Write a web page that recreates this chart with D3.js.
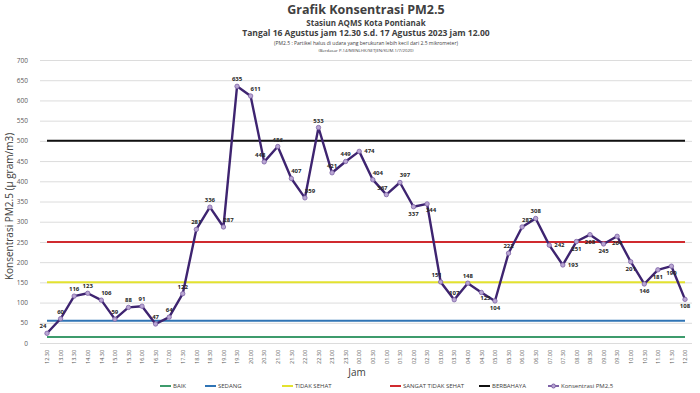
<!DOCTYPE html>
<html><head><meta charset="utf-8">
<script src="https://cdn.jsdelivr.net/npm/d3@7/dist/d3.min.js"></script>
<style>body{margin:0;background:#fff}svg{display:block;font-family:"Open Sans","Noto Sans",sans-serif}</style>
</head><body><svg id="c" width="700" height="393"></svg>
<script>
const categories = ["12.30","13.00","13.30","14.00","14.30","15.00","15.30","16.00","16.30","17.00","17.30","18.00","18.30","19.00","19.30","20.00","20.30","21.00","21.30","22.00","22.30","23.00","23.30","00.00","00.30","01.00","01.30","02.00","02.30","03.00","03.30","04.00","04.30","05.00","05.30","06.00","06.30","07.00","07.30","08.00","08.30","09.00","09.30","10.00","10.30","11.00","11.30","12.00"];
const pm25 = [24,60,116,123,106,59,88,91,47,64,122,281,336,287,635,611,448,486,407,359,533,421,449,474,404,367,397,337,344,151,107,148,125,104,222,287,308,242,193,251,268,245,264,201,146,181,190,108];
const thresholdNames = ["BAIK","SEDANG","TIDAK SEHAT","SANGAT TIDAK SEHAT","BERBAHAYA"];
const thresholdValues = [15,55,150,250,500];
const yTicks = [0,50,100,150,200,250,300,350,400,450,500,550,600,650,700];
const seriesName = "Konsentrasi PM2,5";
// label placement per point (style only)
const labelPos = ["al","a","a","a","ar","a","a","a","a","a","a","a","a","ar","a","ar","al","a","ar","ar","a","a","a","r","ar","al","ar","b","br","al","a","a","br","b","a","ar","a","r","r","b","b","b","b","b","b","b","b","b"];

const thresholdColors = ["#3d9b6c","#2f74b5","#e3e22f","#d02a2f","#111111"];
const svg = d3.select("#c");
const x = d3.scalePoint().domain(categories).range([47,685]);
const y = d3.scaleLinear().domain([0,700]).range([343,60]);

// titles
const t = svg.append("g").attr("fill","#404040").attr("text-anchor","middle").attr("font-weight","bold");
t.append("text").attr("x",366).attr("y",14).attr("font-size",12.5).text("Grafik Konsentrasi PM2.5");
t.append("text").attr("x",366).attr("y",26).attr("font-size",8).text("Stasiun AQMS Kota Pontianak");
t.append("text").attr("x",366).attr("y",36).attr("font-size",8.5).text("Tangal 16 Agustus jam 12.30 s.d. 17 Agustus 2023 jam 12.00");
t.append("text").attr("x",366).attr("y",45).attr("font-size",5).attr("font-weight","normal").text("(PM2.5 : Partikel halus di udara yang berukuran lebih kecil dari 2.5 mikrometer)");
t.append("text").attr("x",366).attr("y",52).attr("font-size",4.3).attr("font-weight","normal").text("(Berdasar P.14/MENLHK/SETJEN/KUM.1/7/2020)");

// gridlines & y axis labels
const yAxis = d3.axisLeft(y).tickValues(yTicks).tickSize(-652).tickPadding(12);
const ga = svg.append("g").attr("transform","translate(40,0)").call(yAxis);
ga.select(".domain").remove();
ga.selectAll(".tick line").attr("stroke","#dcdcdc").attr("stroke-width",1);
ga.selectAll(".tick text").attr("fill","#595959").attr("font-size",6.5).attr("font-family","'Open Sans',sans-serif");

svg.append("text").attr("transform","translate(13,"+((y(0)+y(700))/2+5)+") rotate(-90)")
  .attr("text-anchor","middle").attr("font-size",10).attr("fill","#404040").text("Konsentrasi PM2.5 (µ gram/m3)");

// x axis labels
const xAxis = d3.axisBottom(x).tickSize(0).tickPadding(0);
const gx = svg.append("g").attr("transform","translate(0,346)").call(xAxis);
gx.select(".domain").remove();
gx.selectAll(".tick text").attr("transform","rotate(-90)").attr("text-anchor","start").attr("dy","0.32em")
  .attr("x",-18).attr("y",0).attr("font-size",5.5).attr("fill","#595959").attr("font-family","'Open Sans',sans-serif");
svg.append("text").attr("x",357).attr("y",376).attr("text-anchor","middle").attr("font-size",10).attr("fill","#404040").text("Jam");

// threshold lines
thresholdValues.forEach((v,i)=>{
  svg.append("line").attr("x1",x(categories[0])).attr("x2",x(categories[categories.length-1]))
    .attr("y1",y(v)).attr("y2",y(v)).attr("stroke",thresholdColors[i]).attr("stroke-width",2);
});

// series line
const line = d3.line().x((d,i)=>x(categories[i])).y(d=>y(d));
svg.append("path").datum(pm25).attr("d",line).attr("fill","none").attr("stroke","#3e2470").attr("stroke-width",2.4).attr("stroke-linejoin","round");
svg.append("g").selectAll("circle").data(pm25).join("circle")
  .attr("cx",(d,i)=>x(categories[i])).attr("cy",d=>y(d)).attr("r",2.2)
  .attr("fill","#b9a6d3").attr("stroke","#7e63a6").attr("stroke-width",0.8);

// data labels
const off = {a:[0,-5,"middle"],al:[-4,-5,"middle"],ar:[5,-5,"middle"],r:[5,2,"start"],b:[0,9,"middle"],br:[4,8,"middle"]};
svg.append("g").selectAll("text").data(pm25).join("text")
  .attr("x",(d,i)=>x(categories[i])+off[labelPos[i]][0])
  .attr("y",(d,i)=>y(d)+off[labelPos[i]][1])
  .attr("text-anchor",(d,i)=>off[labelPos[i]][2])
  .attr("font-size",6).attr("font-weight","bold").attr("fill","#262626").text(d=>d);

// legend
const legItems = thresholdNames.map((n,i)=>({name:n,color:thresholdColors[i],marker:false}))
  .concat([{name:seriesName,color:"#7e63a6",marker:true}]);
const legX = [160,205,282,390,479,548];
const lg = svg.append("g").attr("font-size",6).attr("fill","#404040");
legItems.forEach((d,i)=>{
  const g = lg.append("g").attr("transform","translate("+legX[i]+",386)");
  g.append("line").attr("x1",0).attr("x2",11).attr("y1",0).attr("y2",0).attr("stroke",d.color).attr("stroke-width",2);
  if(d.marker) g.append("circle").attr("cx",5.5).attr("cy",0).attr("r",2).attr("fill","#b9a6d3").attr("stroke","#7e63a6");
  g.append("text").attr("x",13).attr("y",2).text(d.name);
});
</script></body></html>
